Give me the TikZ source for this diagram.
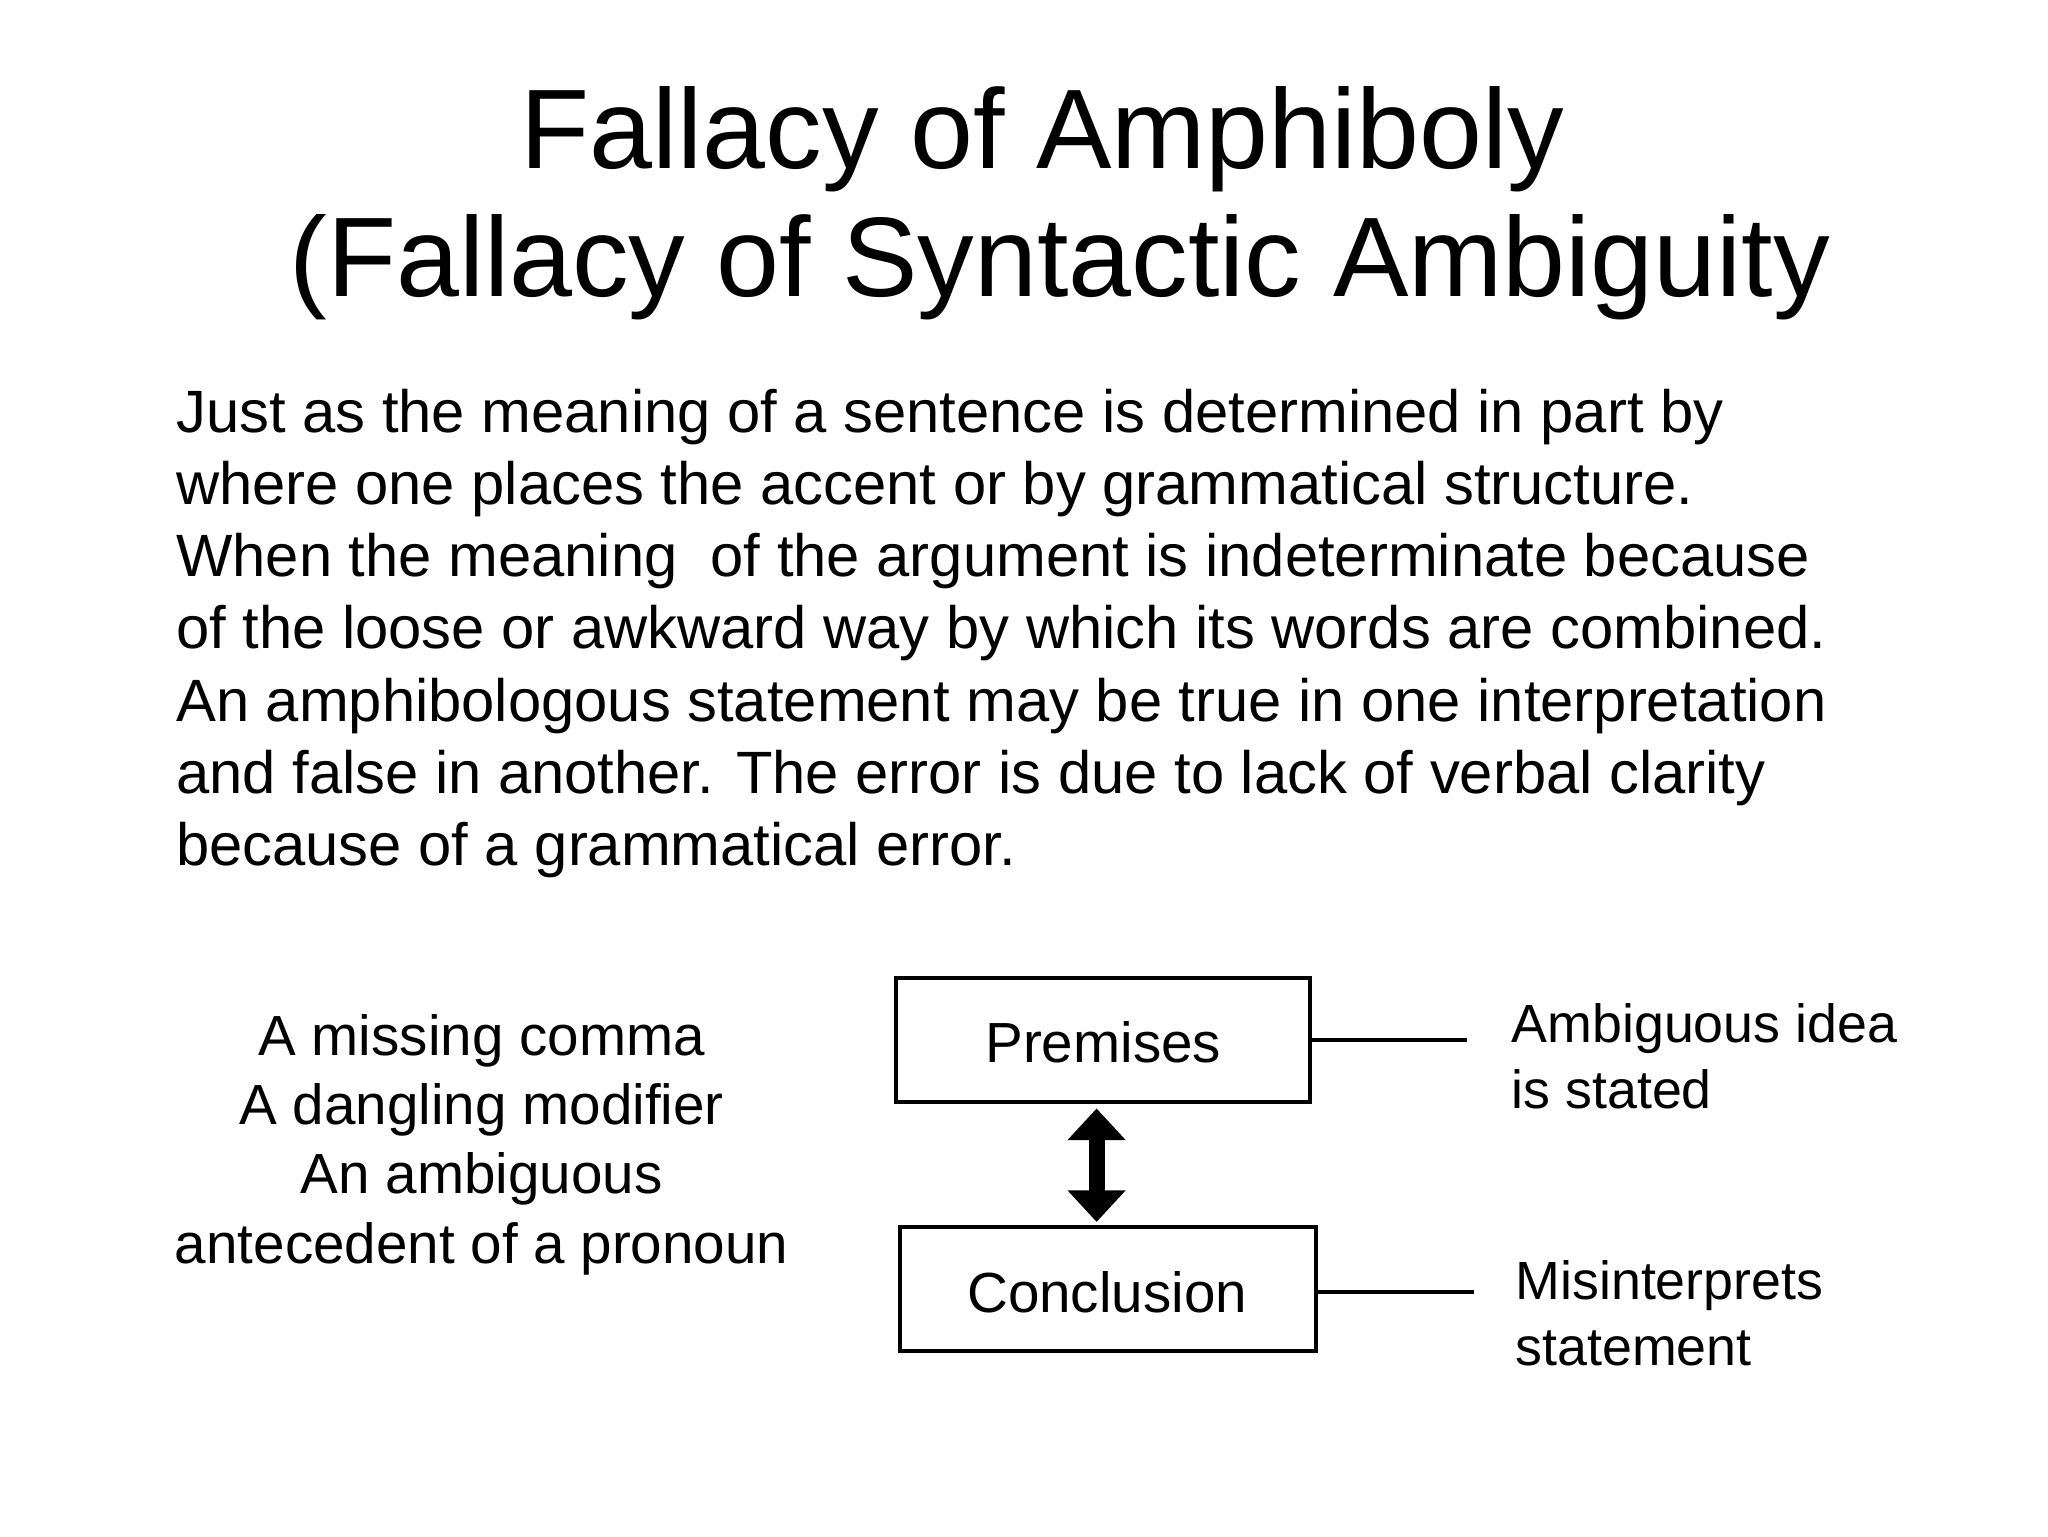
\documentclass[tikz,border=0pt]{standalone}
\usepackage{fontspec}
\setmainfont{Liberation Sans}
\usetikzlibrary{arrows.meta}
\begin{document}
\begin{tikzpicture}[x=0.013196cm,y=-0.013196cm,
  t/.style={anchor=base west,inner sep=0pt}]
\useasboundingbox (0,0) rectangle (1552,1164);
\node[anchor=base,inner sep=0pt,font=\fontsize{32.2}{40}\selectfont] (t1) at (790,128) {Fallacy of Amphiboly};
\node[anchor=base,inner sep=0pt,font=\fontsize{32.2}{40}\selectfont] (t2) at (803,225) {(Fallacy of Syntactic Ambiguity};
\foreach \s [count=\i from 0] in {Just as the meaning of a sentence is determined in part by,
 where one places the accent or by grammatical structure.,
 When the meaning\ \ of the argument is indeterminate because,
 of the loose or awkward way by which its words are combined.,
 An amphibologous statement may be true in one interpretation,
 and false in another. The error is due to lack of verbal clarity,
 because of a grammatical error.}
 \node[t,font=\fontsize{17}{20}\selectfont] (b\i) at (133,{328+54.6*\i}) {\s};
\draw[line width=1.1pt] (679,741) rectangle (993,835);
\node[font=\fontsize{16.1}{20}\selectfont] (p) at (836,790) {Premises};
\draw[line width=1.1pt] (682,930) rectangle (997,1024);
\node[font=\fontsize{16.1}{20}\selectfont] (c) at (839,979) {Conclusion};
\coordinate (pa) at (831,840); \coordinate (ca) at (831,926);
\draw[line width=4.5pt,{Triangle[width=16pt,length=9pt]}-{Triangle[width=16pt,length=9pt]}] (pa) -- (ca);
\coordinate (pr) at (993,788); \coordinate (pe) at (1112,788);
\coordinate (cr) at (997,979); \coordinate (ce) at (1117,979);
\draw[line width=1.1pt] (pr) -- (pe);
\draw[line width=1.1pt] (cr) -- (ce);
\foreach \s [count=\i from 0] in {A missing comma,A dangling modifier,An ambiguous,antecedent of a pronoun}
 \node[anchor=base,inner sep=0pt,font=\fontsize{16.1}{20}\selectfont] (l\i) at (365,{800+52.4*\i}) {\s};
\node[t,font=\fontsize{15.3}{20}\selectfont] (r1) at (1145,790) {Ambiguous idea};
\node[t,font=\fontsize{15.3}{20}\selectfont] (r2) at (1145,840) {is stated};
\node[t,font=\fontsize{15.3}{20}\selectfont] (r3) at (1148,985) {Misinterprets};
\node[t,font=\fontsize{15.3}{20}\selectfont] (r4) at (1148,1035) {statement};
\end{tikzpicture}
\end{document}
